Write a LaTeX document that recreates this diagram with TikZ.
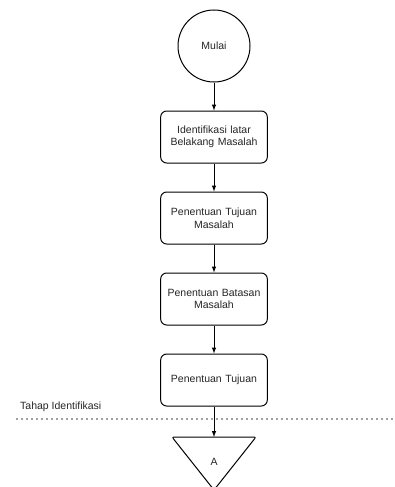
\documentclass[tikz,border=0pt]{standalone}
\usepackage{fontspec}
\setmainfont{Liberation Sans}
\usetikzlibrary{positioning,calc}

\begin{document}
\begin{tikzpicture}[x=1pt, y=-1pt, node distance=28pt, >=latex,
    every node/.style={font=\fontsize{10.5}{12.5}\selectfont, text=black!85},
    proses/.style={draw=black, fill=white, line width=1pt, rounded corners=6pt, minimum width=106pt, minimum height=52pt, align=center, text width=100pt},
    mulai/.style={draw=black, fill=white, line width=1pt, circle, minimum size=72pt, inner sep=0pt},
    panah/.style={->, line width=1pt}]
            \useasboundingbox (0,0) rectangle (395,487);

            % Start: Mulai
            \node[mulai] (start) at (214,46) {Mulai};

            % Step 1: Identifikasi latar belakang
            \node[proses, below=28pt of start] (step1) {Identifikasi latar\\Belakang Masalah};

            % Step 2: Penentuan tujuan masalah
            \node[proses, below=of step1] (step2) {Penentuan Tujuan\\Masalah};

            % Step 3: Penentuan batasan masalah
            \node[proses, below=of step2] (step3) {Penentuan Batasan\\Masalah};

            % Step 4: Penentuan tujuan
            \node[proses, below=of step3] (step4) {Penentuan Tujuan};

            % Off-page connector A
            \draw[line width=1pt, rounded corners=2pt] (172,437) -- (256,437) -- (214,490) -- cycle;
            \coordinate (Atop) at (214,437);
            \node (A) at (214,462) {A};

            % Garis batas tahap
            \draw[black!75, line width=1.6pt, line cap=round, dash pattern=on 0pt off 5pt] (17,419) -- (395,419);
            \node[anchor=west, inner sep=0pt] (tahap) at (20,407) {Tahap Identifikasi};

            % Arrows between steps
            \draw[panah] (start) -- (step1);
            \draw[panah] (step1) -- (step2);
            \draw[panah] (step2) -- (step3);
            \draw[panah] (step3) -- (step4);
            \draw[panah] (step4) -- (Atop);
        \end{tikzpicture}
\end{document}
